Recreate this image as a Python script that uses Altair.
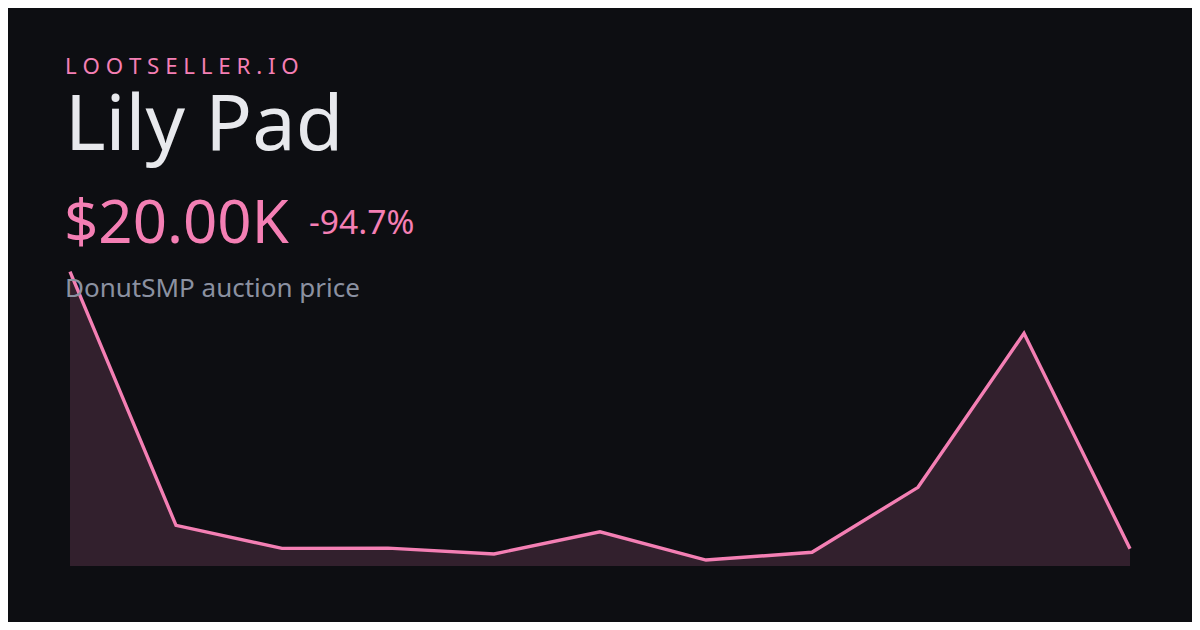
import altair as alt
import pandas as pd

# Data
idx = list(range(11))
price_k = [377.4, 50.2, 20.5, 20.7, 13.2, 41.9, 5.4, 15.4, 99.2, 297.9, 20.0]
y_floor = -2.3

brand = "L O O T S E L L E R . I O"
title = "Lily Pad"
price_label = "$20.00K"
change_label = "-94.7%"
subtitle = "DonutSMP auction price"

BG = "#0d0e12"
PINK = "#f47fb4"
FILL = "#32202d"
FONT = "Noto Sans"

df = pd.DataFrame({"i": idx, "v": price_k})

x_enc = alt.X("i:Q", axis=None, scale=alt.Scale(domain=[0, 10], range=[62, 1122], nice=False, zero=False))
y_enc = alt.Y("v:Q", axis=None, scale=alt.Scale(domain=[y_floor, 377.4], range=[558, 263.7], nice=False, zero=False))

area = alt.Chart(df).mark_area(color=FILL, opacity=1).encode(x=x_enc, y=y_enc, y2=alt.datum(y_floor))
line = alt.Chart(df).mark_line(color=PINK, strokeWidth=3.4, strokeJoin="miter").encode(x=x_enc, y=y_enc)


def label(text, x, y, size, color):
    return alt.Chart(pd.DataFrame({"t": [text]})).mark_text(
        font=FONT, fontSize=size, color=color, align="left", baseline="alphabetic"
    ).encode(text="t:N", x=alt.value(x), y=alt.value(y))


texts = [
    label(brand, 57, 65.5, 22.3, PINK),
    label(title, 57, 141.5, 77.5, "#e8e9ed"),
    label(price_label, 56, 235.3, 60, PINK),
    label(change_label, 301, 226.3, 33.6, PINK),
    label(subtitle, 57, 288.7, 26, "#8b91a1"),
]

chart = alt.layer(area, line, *texts).properties(
    width=1184, height=614, padding=0, autosize=alt.AutoSizeParams(type="none"),
    background=BG,
).configure_view(stroke=None)

chart.save("out.html", embed_options={"renderer": "svg", "actions": False})
